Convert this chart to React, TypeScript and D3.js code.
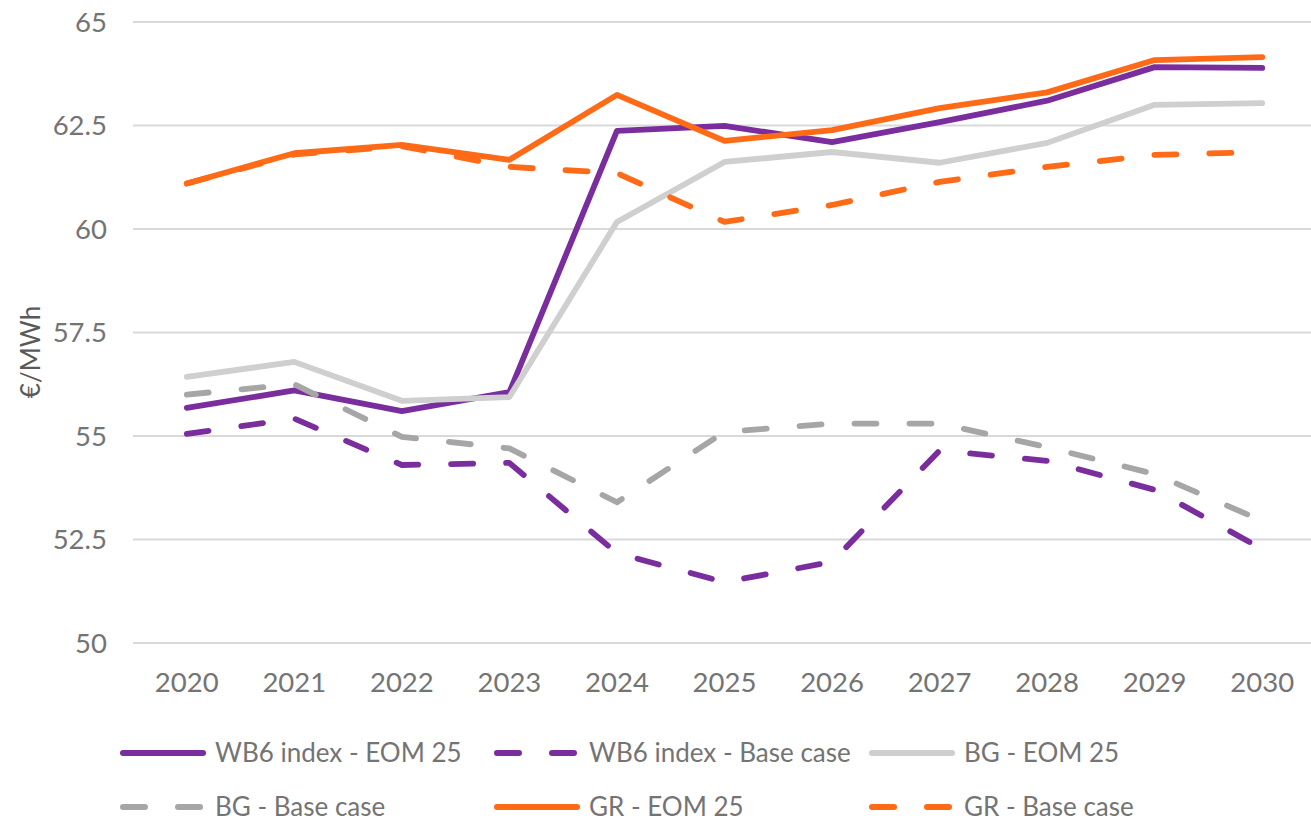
import React from "react";
import * as d3 from "d3";

const years = ["2020", "2021", "2022", "2023", "2024", "2025", "2026", "2027", "2028", "2029", "2030"];
const wb6Eom = [55.68, 56.1, 55.6, 56.06, 62.37, 62.49, 62.1, 62.58, 63.1, 63.91, 63.89];
const wb6Base = [55.05, 55.42, 54.3, 54.35, 52.17, 51.47, 51.96, 54.65, 54.4, 53.7, 52.27];
const bgEom = [56.43, 56.79, 55.85, 55.94, 60.17, 61.62, 61.86, 61.6, 62.08, 63.0, 63.04];
const bgBase = [56.0, 56.25, 54.98, 54.7, 53.4, 55.1, 55.3, 55.3, 54.73, 54.08, 52.95];
const grEom = [61.1, 61.83, 62.03, 61.67, 63.24, 62.13, 62.39, 62.92, 63.3, 64.08, 64.15];
const grBase = [61.1, 61.8, 62.0, 61.5, 61.35, 60.17, 60.58, 61.14, 61.5, 61.79, 61.86];
const yTicks = [50, 52.5, 55, 57.5, 60, 62.5, 65];
const seriesNames = [
  "WB6 index - EOM 25",
  "WB6 index - Base case",
  "BG - EOM 25",
  "BG - Base case",
  "GR - EOM 25",
  "GR - Base case",
];

const W = 1311;
const H = 824;
const PURPLE = "#7A2E9E";
const ORANGE = "#FF6A16";
const LGRAY = "#CFCFCF";
const DGRAY = "#A6A6A6";
const TEXT = "#747474";
const FONT = "Lato, 'Open Sans', sans-serif";

export default function App() {
  const x = d3.scaleBand<string>().domain(years).range([133, 1316]).padding(0);
  const cx = (y: string) => (x(y) as number) + x.bandwidth() / 2;
  const y = d3.scaleLinear().domain([50, 65]).range([643, 22]);

  const series = [
    { name: seriesNames[0], values: wb6Eom, color: PURPLE, dashed: false },
    { name: seriesNames[1], values: wb6Base, color: PURPLE, dashed: true },
    { name: seriesNames[2], values: bgEom, color: LGRAY, dashed: false },
    { name: seriesNames[3], values: bgBase, color: DGRAY, dashed: true },
    { name: seriesNames[4], values: grEom, color: ORANGE, dashed: false },
    { name: seriesNames[5], values: grBase, color: ORANGE, dashed: true },
  ];

  const line = d3
    .line<number>()
    .x((_, i) => cx(years[i]))
    .y((d) => y(d));

  const dash = "22 33";
  const sw = 5.8;

  const legendCols = [120, 494, 869];
  const legendRows = [753, 807];
  const sampleLen = 86;

  return (
    <svg
      width={W}
      height={H}
      style={{ position: "absolute", left: 0, top: 0, background: "#fff" }}
      fontFamily={FONT}
    >
      <rect x={0} y={0} width={W} height={H} fill="#fff" />
      {yTicks.map((t) => (
        <line key={"g" + t} x1={133} x2={W} y1={y(t)} y2={y(t)} stroke="#D9D9D9" strokeWidth={2} />
      ))}
      {yTicks.map((t) => (
        <text
          key={"yt" + t}
          x={107}
          y={y(t)}
          textAnchor="end"
          dy="0.35em"
          fontSize={27.5}
          fill={TEXT}
        >
          {String(t)}
        </text>
      ))}
      {years.map((yr) => (
        <text
          key={"xt" + yr}
          x={cx(yr)}
          y={682}
          textAnchor="middle"
          dy="0.36em"
          fontSize={27.5}
          fill={TEXT}
        >
          {yr}
        </text>
      ))}
      <text
        transform="translate(40,352) rotate(-90)"
        textAnchor="middle"
        fontSize={26}
        fill="#595959"
      >
        €/MWh
      </text>
      {series.map((s) => (
        <path
          key={s.name}
          d={line(s.values) || ""}
          fill="none"
          stroke={s.color}
          strokeWidth={sw}
          strokeLinecap="round"
          strokeLinejoin="round"
          strokeDasharray={s.dashed ? dash : undefined}
        />
      ))}
      {series.map((s, i) => {
        const col = i % 3;
        const row = Math.floor(i / 3);
        const lx = legendCols[col];
        const ly = legendRows[row];
        return (
          <g key={"lg" + s.name}>
            <line
              x1={lx + 3}
              x2={lx + sampleLen - 3}
              y1={ly}
              y2={ly}
              stroke={s.color}
              strokeWidth={6}
              strokeLinecap="round"
              strokeDasharray={s.dashed ? "22 33" : undefined}
            />
            <text
              x={lx + 95}
              y={ly}
              dy="0.35em"
              fontSize={26}
              fill={TEXT}
            >
              {s.name}
            </text>
          </g>
        );
      })}
    </svg>
  );
}
